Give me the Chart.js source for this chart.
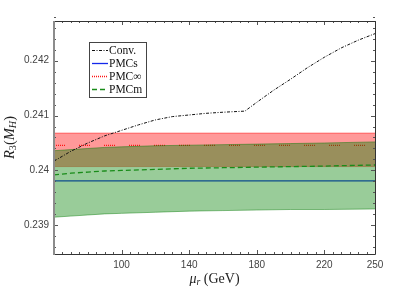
<!DOCTYPE html>
<html>
<head>
<meta charset="utf-8">
<script src="https://cdn.jsdelivr.net/npm/chart.js@4/dist/chart.umd.min.js"></script>
<style>
  body { margin: 0; background: #fff; }
  canvas { display: block; }
</style>
</head>
<body>
<canvas id="r3-chart" width="415" height="287"></canvas>
<script>
// renormalization scale points (GeV)
const muConv = [60, 70, 80, 90, 100, 110, 120, 130, 140, 150, 160, 173, 180, 190, 200, 210, 220, 230, 240, 250];
const conv = [0.24017, 0.24035, 0.24050, 0.24063, 0.24073, 0.24083, 0.24092, 0.24098, 0.24101, 0.24104, 0.24106, 0.24108,
              0.24124, 0.24146, 0.24166, 0.24187, 0.24206, 0.24223, 0.24237, 0.24249];

const muM = [60, 70, 80, 90, 100, 120, 140, 160, 180, 200, 220, 250];
const pmcmUp = [0.24036, 0.24038, 0.24040, 0.24042, 0.24043, 0.24045, 0.24046, 0.24047, 0.24048, 0.24049, 0.24050, 0.24052];
const pmcm = [0.23992, 0.23995, 0.23997, 0.23999, 0.24000, 0.24002, 0.24004, 0.24005, 0.24006, 0.24007, 0.24008, 0.24010];
const pmcmLow = [0.23915, 0.23917, 0.23919, 0.23921, 0.23922, 0.23924, 0.23926, 0.23927, 0.23928, 0.23929, 0.23929, 0.23930];

const muFlat = [60, 250];
const pmcs = [0.23981, 0.23981];
const pmcInf = [0.240455, 0.240455];
const pmcInfUp = [0.24068, 0.24068];
const pmcInfLow = [0.24007, 0.24007];

const xTicks = [100, 140, 180, 220, 250];
const yTicks = [0.239, 0.240, 0.241, 0.242];
const names = ['Conv.', 'PMCs', 'PMC\u221E', 'PMCm'];

function pts(xs, ys) {
  return xs.map((x, i) => ({x: x, y: ys[i]}));
}

const convStyle = {borderColor: '#111', borderWidth: 1, borderDash: [3, 1.5, 1, 1.5]};
const pmcsStyle = {borderColor: 'rgb(20,40,235)', borderWidth: 1.3, borderDash: []};
const infStyle = {borderColor: 'rgb(255,20,20)', borderWidth: 1.3, borderDash: [1, 1, 1, 1, 1, 1, 1, 1, 1, 1, 1, 14]};
const pmcmStyle = {borderColor: 'rgb(25,140,25)', borderWidth: 1.3, borderDash: [5, 3]};

const datasets = [
  Object.assign({label: names[0], data: pts(muConv, conv), order: 0}, convStyle),
  Object.assign({label: names[3], data: pts(muM, pmcm), order: 1}, pmcmStyle),
  {label: 'PMCm up', data: pts(muM, pmcmUp), order: 2, borderColor: 'rgba(0,120,0,0.45)', borderWidth: 1,
   fill: '+1', backgroundColor: 'rgba(0,128,0,0.4)'},
  {label: 'PMCm low', data: pts(muM, pmcmLow), order: 2, borderColor: 'rgba(0,120,0,0.45)', borderWidth: 1},
  Object.assign({label: names[2], data: pts(muFlat, pmcInf), order: 3}, infStyle),
  Object.assign({label: names[1], data: pts(muFlat, pmcs), order: 4}, pmcsStyle),
  {label: 'PMCinf up', data: pts(muFlat, pmcInfUp), order: 5, borderColor: 'rgba(255,0,0,0.45)', borderWidth: 1,
   fill: '+1', backgroundColor: 'rgba(255,0,0,0.4)'},
  {label: 'PMCinf low', data: pts(muFlat, pmcInfLow), order: 5, borderColor: 'rgba(255,0,0,0.25)', borderWidth: 1}
];
datasets.forEach(d => { d.pointRadius = 0; d.tension = 0; if (d.fill === undefined) d.fill = false; });

function richText(ctx, parts, size) {
  // parts: {t, it, sub}
  let w = 0;
  parts.forEach(p => {
    const s = p.sub ? size * 0.7 : size;
    ctx.font = (p.it ? 'italic ' : '') + s + 'px "Liberation Serif"';
    p.w = ctx.measureText(p.t).width;
    p.s = s;
    w += p.w;
  });
  let x = -w / 2;
  parts.forEach(p => {
    ctx.font = (p.it ? 'italic ' : '') + p.s + 'px "Liberation Serif"';
    ctx.fillText(p.t, x, p.sub ? size * 0.25 : 0);
    x += p.w;
  });
}

const framePlugin = {
  id: 'frame',
  afterDraw(chart) {
    const ctx = chart.ctx;
    const a = chart.chartArea;
    const xs = chart.scales.x, ys = chart.scales.y;
    ctx.save();
    // ticks, inward on all four sides
    ctx.strokeStyle = '#555';
    ctx.lineWidth = 1;
    ctx.beginPath();
    for (let v = 60; v <= 250; v += 5) {
      const px = Math.round(xs.getPixelForValue(v)) + 0.5;
      const len = xTicks.includes(v) ? 4 : 2;
      ctx.moveTo(px, a.bottom); ctx.lineTo(px, a.bottom - len);
      ctx.moveTo(px, a.top); ctx.lineTo(px, a.top + len);
    }
    for (let k = 0; k <= 21; k++) {
      const v = 0.2386 + k * 0.0002;
      const py = Math.round(ys.getPixelForValue(v)) + 0.5;
      const len = (k % 5 === 2) ? 4 : 2;
      ctx.moveTo(a.left, py); ctx.lineTo(a.left + len, py);
      ctx.moveTo(a.right, py); ctx.lineTo(a.right - len, py);
    }
    ctx.stroke();
    // frame
    ctx.strokeStyle = '#333';
    ctx.beginPath();
    ctx.moveTo(a.left, a.top + 0.5); ctx.lineTo(a.right + 0.5, a.top + 0.5);
    ctx.lineTo(a.right + 0.5, a.bottom + 0.5); ctx.lineTo(a.left, a.bottom + 0.5);
    ctx.stroke();
    ctx.strokeStyle = '#8c8c8c';
    ctx.lineWidth = 2;
    ctx.beginPath();
    ctx.moveTo(a.left, a.top); ctx.lineTo(a.left, a.bottom + 1);
    ctx.stroke();

    // legend
    const lx = 89.5, ly = 42.5, lw = 57, lh = 55;
    ctx.fillStyle = '#fff';
    ctx.fillRect(lx, ly, lw, lh);
    ctx.strokeStyle = '#444';
    ctx.lineWidth = 1;
    ctx.strokeRect(lx, ly, lw, lh);
    const styles = [convStyle, pmcsStyle, infStyle, pmcmStyle];
    const rows = [50.5, 63.5, 76.5, 89.5];
    ctx.font = '11.5px "Liberation Serif"';
    ctx.textBaseline = 'middle';
    ctx.fillStyle = '#111';
    names.forEach((n, i) => {
      const st = styles[i];
      ctx.strokeStyle = st.borderColor;
      ctx.lineWidth = st.borderWidth;
      ctx.setLineDash(i === 2 ? [1, 1] : st.borderDash);
      ctx.beginPath();
      ctx.moveTo(92, rows[i]); ctx.lineTo(108, rows[i]);
      ctx.stroke();
      ctx.setLineDash([]);
      ctx.fillText(n, 109, rows[i] + 0.5);
    });

    // axis titles
    ctx.fillStyle = '#222';
    ctx.textBaseline = 'middle';
    ctx.textAlign = 'left';
    ctx.save();
    ctx.translate((a.left + a.right) / 2, 279);
    richText(ctx, [{t: '\u03BC', it: true}, {t: 'r', it: true, sub: true}, {t: ' (GeV)'}], 14);
    ctx.restore();
    ctx.save();
    ctx.translate(10, (a.top + a.bottom) / 2);
    ctx.rotate(-Math.PI / 2);
    richText(ctx, [{t: 'R', it: true}, {t: '3', sub: true}, {t: '('}, {t: 'M', it: true}, {t: 'H', it: true, sub: true}, {t: ')'}], 14.5);
    ctx.restore();
    ctx.restore();
  }
};

const chartBody = document.getElementById('r3-chart');
const myChart = new Chart(chartBody, {
  type: 'line',
  data: {datasets: datasets},
  options: {
    responsive: false,
    animation: false,
    devicePixelRatio: 1,
    layout: {padding: {left: 0, top: 21, right: 40, bottom: 0}},
    plugins: {legend: {display: false}, tooltip: {enabled: false}},
    scales: {
      x: {
        type: 'linear', min: 60, max: 250,
        grid: {display: false, drawTicks: false},
        border: {display: false},
        afterBuildTicks: s => { s.ticks = xTicks.map(v => ({value: v})); },
        afterFit: s => { s.height = 33; },
        ticks: {padding: 5, color: '#444', font: {family: 'Liberation Sans', size: 10}, maxRotation: 0,
                callback: v => String(v)}
      },
      y: {
        type: 'linear', min: 0.23848, max: 0.24272,
        grid: {display: false, drawTicks: false},
        border: {display: false},
        afterBuildTicks: s => { s.ticks = yTicks.map(v => ({value: v})); },
        afterFit: s => { s.width = 54; },
        ticks: {padding: 5, color: '#444', font: {family: 'Liberation Sans', size: 10},
                callback: v => String(Number(v.toFixed(3)))}
      }
    }
  },
  plugins: [framePlugin]
});
</script>
</body>
</html>
